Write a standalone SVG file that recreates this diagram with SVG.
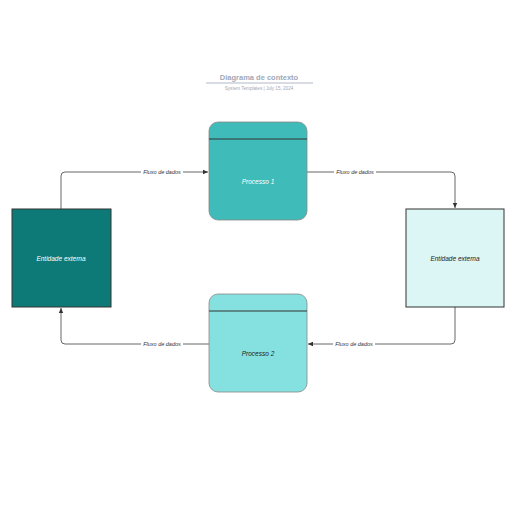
<svg xmlns="http://www.w3.org/2000/svg" width="516" height="516" viewBox="0 0 516 516">
<defs>
<marker id="ah" markerWidth="6" markerHeight="6" refX="5" refY="3" orient="auto" markerUnits="userSpaceOnUse">
<path d="M0,0.8 L5,3 L0,5.2 Z" fill="#333"/>
</marker>
<style>
.lbl{font-family:"Liberation Sans",Arial,sans-serif;font-size:5.5px;font-style:italic;fill:#333;text-anchor:middle;dominant-baseline:central}
.conn{fill:none;stroke:#555;stroke-width:0.9}
.node{stroke:#333;stroke-width:1}
.nt{font-family:"Liberation Sans",Arial,sans-serif;font-size:6.5px;font-style:italic;text-anchor:middle;dominant-baseline:central}
</style>
</defs>
<rect width="516" height="516" fill="#fff"/>
<g id="title">
<text x="259" y="77" font-family="Liberation Sans,Arial,sans-serif" font-size="7.5" font-weight="bold" fill="#a0a8b8" text-anchor="middle" dominant-baseline="central">Diagrama de contexto</text>
<line x1="206" y1="83" x2="313" y2="83" stroke="#a0a8b8" stroke-width="0.8"/>
<text x="259" y="88" font-family="Liberation Sans,Arial,sans-serif" font-size="4.6" fill="#a0a8b8" text-anchor="middle" dominant-baseline="central">System Templates  |  July 15, 2024</text>
</g>
<g id="connectors">
<path class="conn" d="M61,209 V176 Q61,172 65,172 H208" marker-end="url(#ah)"/>
<path class="conn" d="M307,172 H451 Q455,172 455,176 V208" marker-end="url(#ah)"/>
<path class="conn" d="M455,307 V340 Q455,344 451,344 H308" marker-end="url(#ah)"/>
<path class="conn" d="M209,344 H65 Q61,344 61,340 V308" marker-end="url(#ah)"/>
<rect x="141" y="169" width="42" height="6" fill="#fff"/>
<text class="lbl" x="162" y="172">Fluxo de dados</text>
<rect x="334" y="169" width="42" height="6" fill="#fff"/>
<text class="lbl" x="355" y="172">Fluxo de dados</text>
<rect x="333" y="341" width="42" height="6" fill="#fff"/>
<text class="lbl" x="354" y="344">Fluxo de dados</text>
<rect x="141" y="341" width="42" height="6" fill="#fff"/>
<text class="lbl" x="162" y="344">Fluxo de dados</text>
</g>
<g id="entity-left">
<rect class="node" x="12" y="209" width="99" height="98" fill="#0e7a77"/>
<text class="nt" x="61" y="258" fill="#fff">Entidade externa</text>
</g>
<g id="entity-right">
<rect class="node" x="406" y="209" width="98" height="98" fill="#dcf5f5"/>
<text class="nt" x="455" y="258" fill="#222">Entidade externa</text>
</g>
<g id="process-1">
<rect x="209" y="122" width="98" height="98" rx="9" fill="#3fbbb9" stroke="#888" stroke-width="0.8"/>
<line x1="209" y1="139" x2="307" y2="139" stroke="#333" stroke-width="1"/>
<text class="nt" x="258" y="181" fill="#fff">Processo 1</text>
</g>
<g id="process-2">
<rect x="209" y="294" width="98" height="98" rx="9" fill="#84e1e0" stroke="#888" stroke-width="0.8"/>
<line x1="209" y1="311" x2="307" y2="311" stroke="#333" stroke-width="1"/>
<text class="nt" x="258" y="353" fill="#222">Processo 2</text>
</g>
</svg>
